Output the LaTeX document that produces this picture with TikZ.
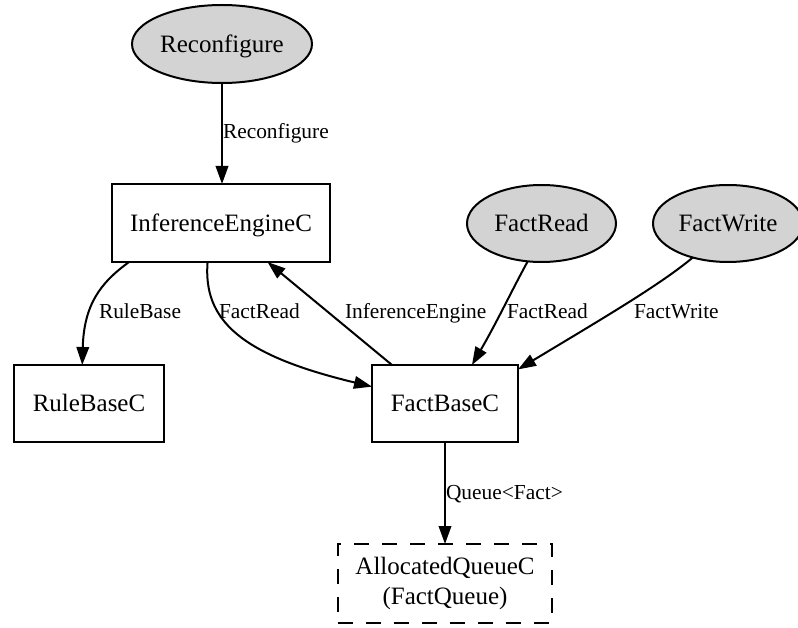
\documentclass[tikz,border=0pt]{standalone}
\usepackage{fontspec}
\setmainfont{Liberation Serif}
\usetikzlibrary{shapes.geometric,arrows.meta}
\definecolor{evgray}{HTML}{D3D3D3}

\begin{document}
\begin{tikzpicture}[x=1pt,y=-1pt,
  every node/.style={inner sep=0pt, outer sep=0pt},
  nodefont/.style={font=\fontsize{25}{30}\selectfont},
  boxnode/.style={draw, rectangle, line width=2pt, nodefont, text height=16.5pt, text depth=0pt},
  evtnode/.style={draw, ellipse, fill=evgray, line width=2pt, nodefont, text height=16.5pt, text depth=0pt},
  queuenode/.style={draw, rectangle, line width=2pt, nodefont, align=center, dash pattern=on 15pt off 13pt},
  lbl/.style={font=\fontsize{21.4}{26}\selectfont, anchor=base west},
  conn/.style={line width=2pt, -{Triangle[length=18pt,width=12.5pt]}},
]
\useasboundingbox (0,0) rectangle (798,628);
\clip (0,0) rectangle (798,628);

% event sources
\node[evtnode, minimum width=180pt, minimum height=78pt] (rc) at (222,44) {Reconfigure};
\node[evtnode, minimum width=149pt, minimum height=77pt] (fr) at (541.5,223.5) {FactRead};
\node[evtnode, minimum width=150pt, minimum height=77pt] (fw) at (728,223.5) {FactWrite};

% components
\node[boxnode, minimum width=218pt, minimum height=78pt] (ie) at (221,223) {InferenceEngineC};
\node[boxnode, minimum width=150pt, minimum height=77pt] (rb) at (89,403.5) {RuleBaseC};
\node[boxnode, minimum width=146pt, minimum height=77pt] (fb) at (445,403.5) {FactBaseC};
\node[queuenode, minimum width=214pt, minimum height=79pt] (aq) at (445,583.5) {AllocatedQueueC\\(FactQueue)};

% wiring
\draw[conn] (rc.south) -- (rc.south |- ie.north);
\draw[conn] (ie.-157) .. controls (100,283) and (84,305) .. (rb.100.3);
\draw[conn] (ie.-109.75) .. controls (203,320) and (240,355) .. (fb.167.9);
\draw[conn] (fb.144.3) -- (ie.-40.9);
\draw[conn] (fr.-110.6) .. controls (512,290) and (497,322) .. (fb.55.5);
\draw[conn] (fw.-136.6) .. controls (660,285) and (600,320) .. (fb.25.4);
\draw[conn] (fb.south) -- (fb.south |- aq.north);

% interface labels
\node[lbl] (l1) at (223,139) {Reconfigure};
\node[lbl] (l2) at (99,319) {RuleBase};
\node[lbl] (l3) at (219,319) {FactRead};
\node[lbl] (l4) at (345,319) {InferenceEngine};
\node[lbl] (l5) at (507,319) {FactRead};
\node[lbl] (l6) at (634,319) {FactWrite};
\node[lbl] (l7) at (446,499) {Queue<Fact>};
\end{tikzpicture}
\end{document}
